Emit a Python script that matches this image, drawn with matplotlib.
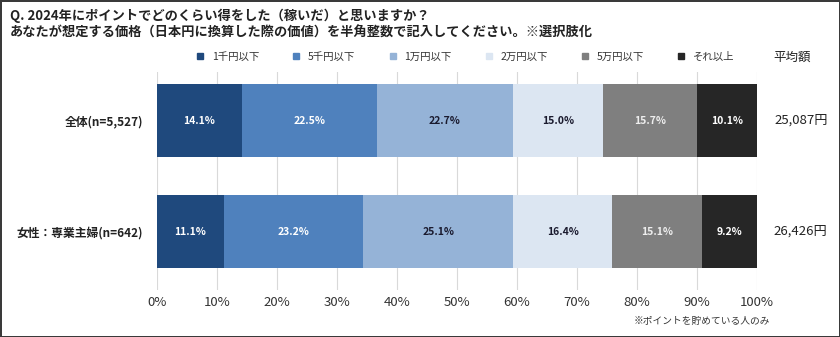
import matplotlib.pyplot as plt
import numpy as np
from matplotlib.lines import Line2D

plt.rcParams['font.family'] = ['Noto Sans CJK JP', 'DejaVu Sans']

# data
groups = ["全体(n=5,527)", "女性：専業主婦(n=642)"]
categories = ["1千円以下", "5千円以下", "1万円以下", "2万円以下", "5万円以下", "それ以上"]
overall = [14.1, 22.5, 22.7, 15.0, 15.7, 10.1]
housewife = [11.1, 23.2, 25.1, 16.4, 15.1, 9.2]
averages = ["25,087円", "26,426円"]
xticks = [0, 10, 20, 30, 40, 50, 60, 70, 80, 90, 100]

colors = ["#1f497d", "#4f81bd", "#95b3d7", "#dce6f2", "#7f7f7f", "#262626"]
text_colors = ["white", "white", "#1a1a2e", "#1a1a2e", "#eeeeee", "white"]

fig = plt.figure(figsize=(8.4, 3.37), dpi=100, linewidth=2, edgecolor="#3a3a3a")
ax = fig.add_axes([157 / 840, 1 - 290 / 337, 600 / 840, 218 / 337])

values = np.array([overall, housewife])
ypos = np.arange(len(groups))
left = np.zeros(len(groups))
for i, cat in enumerate(categories):
    ax.barh(ypos, values[:, i], left=left, height=0.66, color=colors[i],
            zorder=2, label=cat)
    for j in range(len(groups)):
        ax.text(left[j] + values[j, i] / 2, ypos[j], f"{values[j, i]:.1f}%",
                ha="center", va="center", fontsize=7.5, fontweight="bold",
                color=text_colors[i], zorder=3)
    left += values[:, i]

ax.set_xlim(0, 100)
ax.set_ylim(1.527, -0.437)
ax.set_xticks(xticks)
ax.set_xticklabels([f"{t}%" for t in xticks], fontsize=9.5, color="#333333")
ax.set_yticks(ypos)
ax.set_yticklabels(groups, fontsize=8.5, fontweight="bold", color="#222222")
ax.tick_params(axis="both", length=0)
ax.tick_params(axis="x", pad=4)
ax.tick_params(axis="y", pad=10)
ax.grid(axis="x", color="#d9d9d9", linewidth=0.8, zorder=0)
for s in ax.spines.values():
    s.set_visible(False)

# averages on the right
for j, avg in enumerate(averages):
    ax.text(1.073, ypos[j], avg, transform=ax.get_yaxis_transform(),
            ha="center", va="center", fontsize=9.5, color="#222222")
fig.text(792 / 840, 1 - 57 / 337, "平均額", ha="center", va="center",
         fontsize=9, color="#222222")

handles = [Line2D([], [], marker="s", linestyle="none", markersize=5,
                  color=c) for c in colors]
fig.legend(handles, categories, loc="center", ncol=6,
           bbox_to_anchor=(462 / 840, 1 - 57 / 337), frameon=False,
           fontsize=7.5, handletextpad=0.1, columnspacing=2.6,
           labelcolor="#333333")

fig.text(10 / 840, 1 - 16 / 337,
         "Q. 2024年にポイントでどのくらい得をした（稼いだ）と思いますか？",
         ha="left", va="center", fontsize=9.5, fontweight="bold", color="#222222")
fig.text(10 / 840, 1 - 33 / 337,
         "あなたが想定する価格（日本円に換算した際の価値）を半角整数で記入してください。※選択肢化",
         ha="left", va="center", fontsize=9.5, fontweight="bold", color="#222222")
fig.text(770 / 840, 1 - 321 / 337, "※ポイントを貯めている人のみ",
         ha="right", va="center", fontsize=7, color="#333333")

fig.savefig("out.png", dpi=100)
